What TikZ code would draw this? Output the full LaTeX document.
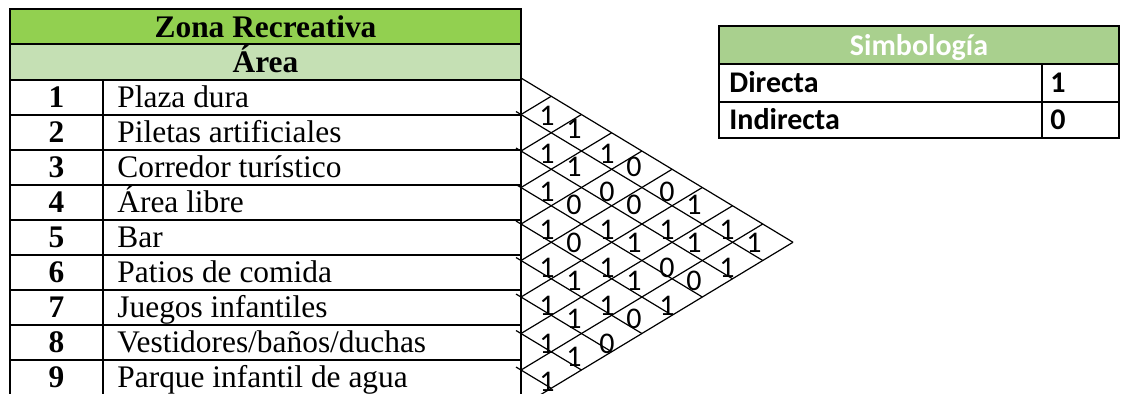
\documentclass[tikz,border=0pt]{standalone}
\usepackage{fontspec}
\setmainfont{Liberation Serif}
\newfontfamily\calibri{Carlito}
\usetikzlibrary{calc}
\definecolor{zonagreen}{HTML}{92D050}
\definecolor{areagreen}{HTML}{C5E0B4}
\definecolor{simbgreen}{HTML}{A9D08E}
\begin{document}
\begin{tikzpicture}[x=0.5pt,y=-0.5pt,
  tabtext/.style={font=\fontsize{15.7}{18}\selectfont,anchor=base,inner sep=0pt},
  celltext/.style={font=\calibri\fontsize{15}{18}\selectfont,inner sep=0pt},
  rule/.style={line width=1pt},
  lattice/.style={line width=0.6pt}]
\useasboundingbox (0,0) rectangle (1122,393);
\clip (0,0) rectangle (1122,393);
\fill[zonagreen] (10,9) rectangle (521,44);
\fill[areagreen] (10,44) rectangle (521,80);
\node[tabtext] (zona) at (265.5,37) {\bfseries Zona Recreativa};
\node[tabtext] (area) at (265.5,72) {\bfseries Área};
\foreach \n/\t in {1/Plaza dura,2/Piletas artificiales,3/Corredor turístico,4/Área libre,5/Bar,6/Patios de comida,7/Juegos infantiles,8/{Vestidores/baños/duchas},9/Parque infantil de agua}{
  \node[tabtext] (num\n) at (56.5,{72+35*\n}) {\bfseries\n};
  \node[tabtext,anchor=base west] (item\n) at (117,{72+35*\n}) {\t};}
\draw[rule] (10,9) rectangle (521,398);
\foreach \y in {44,80,115,150,185,220,255,290,325,360}{\draw[rule] (10,\y) -- (521,\y);}
\draw[rule] (103,80) -- (103,398);
\foreach \k in {0,...,9}{
  \coordinate (L\k) at (521,{78+36.5*\k});
  \coordinate (T\k) at ({521+30.22*\k},{78+18.25*\k});
  \coordinate (B\k) at ({521+30.22*\k},{406.5-18.25*\k});}
\draw[lattice] (L0) -- (B9);
\foreach \k [evaluate=\k as \m using int(9-\k)] in {1,...,8}{\draw[lattice] ($(L\k)+(-5,-3)$) -- (B\m);}
\foreach \k in {1,...,9}{\draw[lattice] (L\k) -- (T\k);}
\foreach \i/\j/\v in {1/2/1,1/3/1,2/3/1,1/4/1,2/4/1,1/5/0,3/4/1,2/5/0,1/6/0,3/5/0,2/6/0,1/7/1,4/5/1,3/6/1,2/7/1,1/8/1,4/6/0,3/7/1,2/8/1,1/9/1,5/6/1,4/7/1,3/8/0,2/9/1,5/7/1,4/8/1,3/9/0,6/7/1,5/8/1,4/9/1,6/8/1,5/9/0,7/8/1,6/9/0,7/9/1,8/9/1}{
  \pgfmathsetmacro\e{int(mod(\j-\i+1,2))}
  \node[celltext] (c\i\j) at ({517+30*(\j-\i)-3*\e},{116+19*(\i+\j-3)-6*\e}) {\v};}
\fill[simbgreen] (719,26) rectangle (1119,64);
\node[celltext,anchor=base,text=white] (simb) at (919,55) {\bfseries Simbología};
\node[celltext,anchor=base west] (dir) at (729,92) {\bfseries Directa};
\node[celltext,anchor=base west] (dirv) at (1050,92) {\bfseries 1};
\node[celltext,anchor=base west] (ind) at (729,129) {\bfseries Indirecta};
\node[celltext,anchor=base west] (indv) at (1050,129) {\bfseries 0};
\draw[rule] (719,26) rectangle (1119,138);
\draw[rule] (719,64) -- (1119,64);
\draw[rule] (719,102) -- (1119,102);
\draw[rule] (1042,64) -- (1042,138);
\end{tikzpicture}
\end{document}
